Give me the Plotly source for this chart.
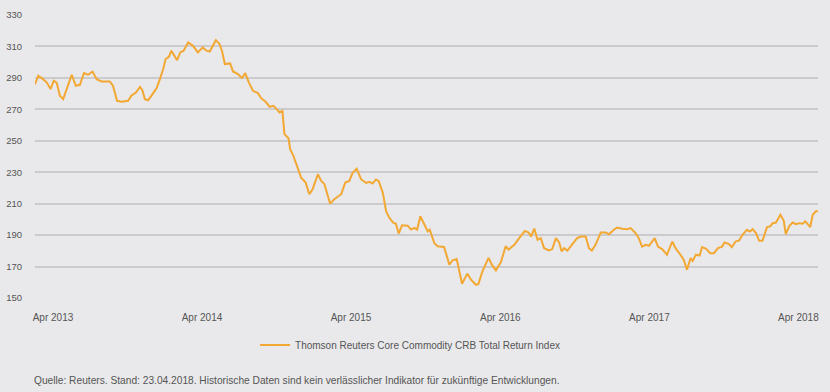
import pandas as pd
import plotly.graph_objects as go

base_date = "2013-04-01"

# days after 2013-04-01 of each reading
day_offset = [
    -44, -36, -24, -15, -6, 2, 9, 17, 25, 35, 46, 56, 66, 76, 86, 97, 107, 119, 139, 147,
    157, 168, 184, 192, 203, 213, 219, 225, 233, 244, 254, 262, 270, 276, 284, 290, 296, 304, 312, 320,
    331, 343, 355, 367, 376, 384, 399, 408, 414, 421, 434, 441, 453, 463, 471, 480, 490, 502, 510, 521,
    531, 540, 548, 555, 562, 567, 577, 581, 589, 600, 608, 619, 628, 636, 649, 657, 665, 679, 689, 706,
    716, 726, 734, 744, 755, 767, 775, 783, 791, 798, 808, 816, 824, 834, 840, 847, 855, 869, 877, 885,
    892, 900, 910, 918, 923, 934, 942, 958, 971, 979, 989, 1002, 1015, 1024, 1036, 1042, 1052, 1067, 1075, 1085,
    1097, 1109, 1116, 1130, 1142, 1156, 1165, 1171, 1179, 1187, 1195, 1203, 1215, 1223, 1232, 1240, 1246, 1252, 1260, 1272,
    1284, 1293, 1305, 1313, 1320, 1329, 1342, 1354, 1362, 1374, 1382, 1394, 1407, 1415, 1427, 1435, 1443, 1452, 1460, 1474,
    1482, 1492, 1504, 1517, 1525, 1537, 1545, 1553, 1562, 1567, 1575, 1584, 1590, 1600, 1610, 1619, 1629, 1639, 1645, 1655,
    1663, 1672, 1681, 1689, 1700, 1707, 1714, 1722, 1730, 1738, 1749, 1757, 1763, 1771, 1782, 1790, 1795, 1804, 1812, 1820,
    1828, 1836, 1843, 1855, 1861, 1869, 1874,
]

index_values = [
    286, 291.3, 289.2, 287, 282.9, 288.2, 287, 278.6, 276.5, 283.9, 292, 285, 285.6, 293, 292, 294, 289.2, 287.7, 287.7, 285,
    275.4, 274.8, 275.4, 278.6, 280.7, 284.3, 282.2, 276.5, 275.8, 279.7, 283.5, 289.2, 295.6, 302, 303.4, 307.3, 304.7, 301.3, 306.2, 307.3,
    312.5, 310.4, 306.2, 309.4, 307.3, 306.8, 314, 311.5, 307.3, 298.8, 299.2, 294.1, 292.4, 289.9, 293, 287, 281.8, 280.3, 277.1, 274.8,
    271.6, 272.2, 270.1, 268, 269, 254.2, 251.6, 244.6, 240.4, 232.9, 226.5, 223.4, 216, 219.2, 228.7, 224.5, 222.4, 210, 212.8, 216,
    223.4, 224.5, 229.6, 232.2, 225.4, 223.2, 223.9, 222.8, 225.4, 224.3, 216.9, 205.2, 201, 197.8, 197.3, 191, 196.2, 196, 193.5, 194.6,
    193.5, 202, 196.7, 192.4, 193.5, 185, 182.9, 182.5, 171.2, 174, 174.8, 159.1, 165.5, 161.6, 158.4, 158.8, 166.9, 175.5, 171.2, 167.6,
    172.7, 182.9, 180.8, 183.8, 188.1, 192.7, 191.7, 189.1, 194.2, 187, 188.1, 181.7, 180.2, 181.1, 188.1, 185.3, 179.6, 181.7, 180.2, 183.8,
    188.1, 189.1, 189.1, 181.7, 180.2, 183.8, 191.7, 191.7, 190.6, 193.4, 194.8, 194, 193.8, 194.5, 191.3, 188.1, 182.7, 183.8, 183.2, 188.1,
    182.7, 181.1, 177.5, 185.9, 181.7, 177.5, 174.3, 168, 175.4, 173.6, 177.5, 177, 182.4, 181.3, 178.5, 178.5, 181.7, 182.7, 185.3, 184.5,
    182.4, 185.9, 186.6, 190.2, 193.4, 192.3, 193.8, 191.3, 186.4, 186.4, 195.1, 195.5, 197.6, 198, 202.9, 199.3, 190.6, 195.9, 198, 197,
    197.6, 197.2, 198.7, 195.1, 202.9, 205.1, 205.1,
]

series_name = "Thomson Reuters Core Commodity CRB Total Return Index"
tick_dates = ["2013-04-01", "2014-04-01", "2015-04-01", "2016-04-01", "2017-04-01", "2018-04-01"]
tick_labels = ["Apr 2013", "Apr 2014", "Apr 2015", "Apr 2016", "Apr 2017", "Apr 2018"]
y_ticks = [150, 170, 190, 210, 230, 250, 270, 290, 310, 330]
footnote = ("Quelle: Reuters. Stand: 23.04.2018. Historische Daten sind kein verlässlicher "
            "Indikator für zukünftige Entwicklungen.")

base = pd.Timestamp(base_date)
dates = [base + pd.Timedelta(days=d) for d in day_offset]

FONT = "Liberation Sans, Arial, sans-serif"
BG = "#e9e9eb"

fig = go.Figure()
fig.add_trace(go.Scatter(
    x=dates, y=index_values, mode="lines", name=series_name,
    line=dict(color="#f2a833", width=2),
))

fig.update_layout(
    width=830, height=392,
    margin=dict(l=35, r=12, t=15, b=94),
    paper_bgcolor=BG, plot_bgcolor=BG,
    font=dict(family=FONT, size=10, color="#555"),
    showlegend=True,
    legend=dict(
        orientation="h", x=0.479, xanchor="center", y=-0.166, yanchor="middle",
        font=dict(family=FONT, size=10, color="#555"),
        itemwidth=30, bgcolor="rgba(0,0,0,0)",
    ),
    xaxis=dict(
        type="date", automargin=False,
        range=[base + pd.Timedelta(days=-44), base + pd.Timedelta(days=1874)],
        tickvals=tick_dates, ticktext=tick_labels,
        showgrid=False, zeroline=False, showline=False,
        ticks="outside", ticklen=10, tickcolor="rgba(0,0,0,0)",
        tickfont=dict(family=FONT, size=10, color="#555"),
    ),
    yaxis=dict(
        range=[150, 330], tickvals=y_ticks, automargin=False,
        showgrid=True, gridcolor="#cbcbce", gridwidth=1.5,
        zeroline=False, showline=False,
        ticks="outside", ticklen=10, tickcolor="rgba(0,0,0,0)",
        tickfont=dict(family=FONT, size=9.5, color="#555"),
    ),
    annotations=[dict(
        text=footnote, xref="paper", yref="paper", x=-0.004, y=-0.29,
        xanchor="left", yanchor="middle", showarrow=False,
        font=dict(family=FONT, size=10.2, color="#555"),
    )],
)

fig.write_html(
    "out.html",
    config={"displayModeBar": False},
    post_script="document.body.style.margin='0';document.body.style.background='#e9e9eb';",
)
